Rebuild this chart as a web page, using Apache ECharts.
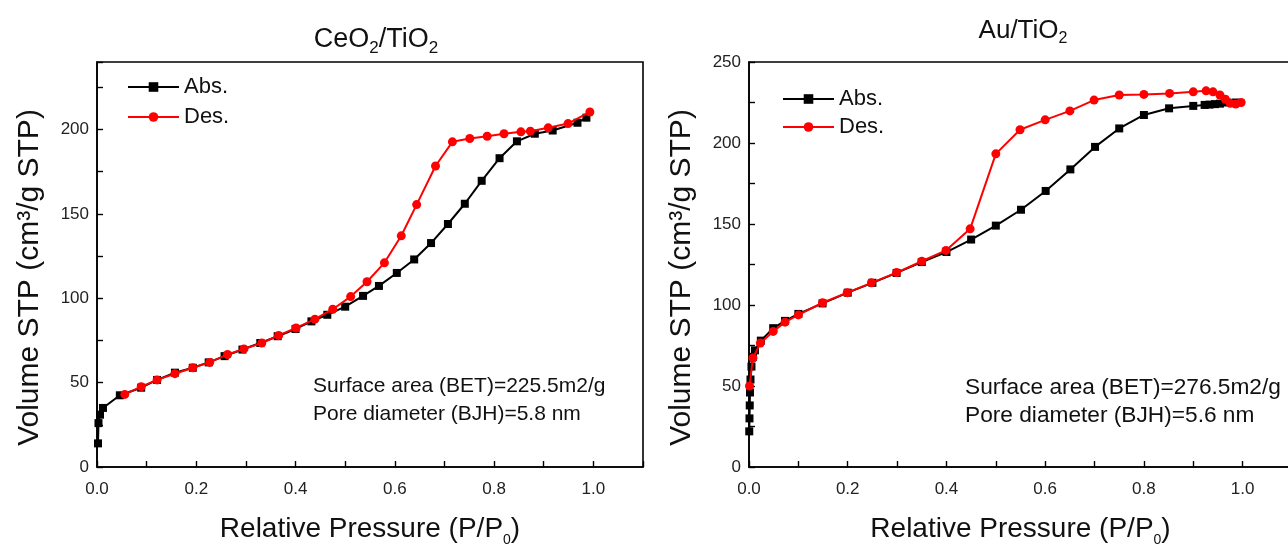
<!DOCTYPE html>
<html>
<head>
<meta charset="utf-8">
<script src="https://cdn.jsdelivr.net/npm/echarts@6/dist/echarts.min.js"></script>
<style>
html,body{margin:0;padding:0;background:#fff;}
#chart{width:1288px;height:546px;}
</style>
</head>
<body>
<div id="chart"></div>
<script>
// CeO2/TiO2 adsorption branch [P/P0, volume]
var ceoAbs = [[0.002,14],[0.003,26],[0.006,31],[0.012,35],[0.046,42.5],[0.089,47],[0.121,51.6],[0.157,55.9],[0.193,58.8],[0.225,62],[0.257,65.7],[0.293,69.6],[0.329,73.5],[0.364,77.5],[0.400,81.8],[0.432,86.3],[0.464,90.2],[0.500,95],[0.536,101.4],[0.568,107.3],[0.604,115],[0.639,123],[0.673,132.7],[0.707,144],[0.741,156],[0.775,169.6],[0.811,183],[0.846,193],[0.882,197.5],[0.918,199.4],[0.968,204],[0.986,207]];
// CeO2/TiO2 desorption branch
var ceoDes = [[0.993,210.4],[0.949,203.5],[0.909,201],[0.873,199],[0.854,198.6],[0.820,197.5],[0.786,196],[0.751,194.7],[0.716,192.7],[0.682,178.4],[0.644,155.5],[0.613,137],[0.579,121],[0.544,109.8],[0.511,101],[0.475,93.5],[0.439,87.6],[0.401,82.4],[0.366,78],[0.332,73.5],[0.296,70],[0.263,66.7],[0.227,62],[0.193,58.8],[0.157,55.3],[0.121,51.6],[0.089,47.6],[0.056,43]];
// Au/TiO2 adsorption branch
var auAbs = [[0.0005,22],[0.001,30],[0.0015,38],[0.002,46],[0.003,54],[0.005,62],[0.008,68],[0.012,72],[0.024,78],[0.049,85.7],[0.073,90.2],[0.100,94.5],[0.149,101],[0.200,107.6],[0.250,113.7],[0.299,119.8],[0.350,126.5],[0.400,132.7],[0.450,140.4],[0.500,149],[0.551,158.8],[0.601,170.4],[0.651,183.7],[0.701,197.6],[0.750,209],[0.800,217.3],[0.851,221.4],[0.900,222.9],[0.923,223.5],[0.933,223.7],[0.944,224],[0.954,224.3],[0.968,225],[0.986,225]];
// Au/TiO2 desorption branch
var auDes = [[0.997,225],[0.986,224],[0.975,224.5],[0.965,227],[0.954,229.6],[0.940,231.6],[0.926,232.2],[0.900,231.6],[0.852,230.6],[0.800,230],[0.750,229.6],[0.699,226.5],[0.650,219.8],[0.600,214.3],[0.549,208.2],[0.500,193.3],[0.448,147],[0.399,133.7],[0.350,127],[0.299,120],[0.248,113.7],[0.199,107.6],[0.149,101.4],[0.100,93.9],[0.073,89.4],[0.049,83.7],[0.023,76.5],[0.008,67.3],[0.001,50]];

var seriesNames = ['Abs.', 'Des.'];
var ceoNotes = ['Surface area (BET)=225.5m2/g', 'Pore diameter (BJH)=5.8 nm'];
var auNotes = ['Surface area (BET)=276.5m2/g', 'Pore diameter (BJH)=5.6 nm'];

var FONT = 'Liberation Sans, Arial, sans-serif';
var chart = echarts.init(document.getElementById('chart'), null, {renderer: 'canvas'});

function subRich(big, small, drop) {
  return {
    n: {fontSize: big, fontFamily: FONT, color: '#111', fontWeight: 'normal'},
    s: {fontSize: small, fontFamily: FONT, color: '#111', fontWeight: 'normal', padding: [drop, 0, 0, 0]}
  };
}

function xAxis(gi) {
  return {
    type: 'value', gridIndex: gi, min: 0, max: 1.1, interval: 0.1,
    name: '{n|Relative Pressure (P/P}{s|0}{n|)}', nameLocation: 'middle', nameGap: 44,
    nameTextStyle: {rich: subRich(28, 14, 22)},
    axisLine: {show: true, onZero: false, lineStyle: {color: '#000', width: 1.6}},
    axisTick: {show: true, inside: true, length: 6, lineStyle: {color: '#000', width: 1.4}},
    axisLabel: {
      fontSize: 17, fontFamily: FONT, color: '#222', margin: 14,
      formatter: function (v) { var k = Math.round(v * 10); return (k % 2 === 0 && k <= 10) ? (k / 10).toFixed(1) : ''; }
    },
    splitLine: {show: false}
  };
}
function yAxis(gi, max) {
  return {
    type: 'value', gridIndex: gi, min: 0, max: max, interval: 25,
    name: 'Volume STP (cm³/g STP)', nameLocation: 'middle', nameGap: 52, nameRotate: 90,
    nameTextStyle: {fontSize: 30, fontFamily: FONT, color: '#111', padding: [0, 26, 0, 0]},
    axisLine: {show: true, onZero: false, lineStyle: {color: '#000', width: 1.6}},
    axisTick: {show: true, inside: true, length: 6, lineStyle: {color: '#000', width: 1.4}},
    axisLabel: {
      fontSize: 17, fontFamily: FONT, color: '#222', margin: 8,
      formatter: function (v) { return (Math.round(v) % 50 === 0) ? String(Math.round(v)) : ''; }
    },
    splitLine: {show: false}
  };
}
function absSeries(name, data, xi) {
  return {
    name: name, type: 'line', xAxisIndex: xi, yAxisIndex: xi, data: data,
    symbol: 'rect', symbolSize: 8, showAllSymbol: true,
    lineStyle: {color: '#000', width: 2}, itemStyle: {color: '#000'},
    animation: false, z: 2
  };
}
function desSeries(name, data, xi) {
  return {
    name: name, type: 'line', xAxisIndex: xi, yAxisIndex: xi, data: data,
    symbol: 'circle', symbolSize: 9, showAllSymbol: true,
    lineStyle: {color: '#ff0000', width: 2}, itemStyle: {color: '#ff0000'},
    animation: false, z: 3
  };
}
function legend(left, top, gap) {
  return {
    orient: 'vertical', left: left, top: top, data: seriesNames,
    itemWidth: 51, itemHeight: 12, itemGap: gap,
    textStyle: {fontSize: 22, fontFamily: FONT, color: '#111'},
    selectedMode: false
  };
}
function noteText(lines, x, y, size, gap) {
  return lines.map(function (t, i) {
    return {
      type: 'text', left: x, top: y + i * gap, z: 10,
      style: {text: t, font: size + 'px ' + FONT, fill: '#111'}
    };
  });
}

chart.setOption({
  backgroundColor: '#fff',
  animation: false,
  title: [
    {text: '{n|CeO}{s|2}{n|/TiO}{s|2}', left: 371, top: 18, textAlign: 'center', textStyle: {rich: subRich(27, 17, 17)}},
    {text: '{n|Au/TiO}{s|2}', left: 1018, top: 10, textAlign: 'center', textStyle: {rich: subRich(26, 16, 16)}}
  ],
  legend: [legend(122, 71, 8), legend(777, 83, 6)],
  grid: [
    {left: 97, right: 645, top: 62, bottom: 79, show: true, borderColor: '#000', borderWidth: 1.6, backgroundColor: 'transparent', containLabel: false, outerBoundsMode: 'none'},
    {left: 749, right: -4, top: 62, bottom: 79, show: true, borderColor: '#000', borderWidth: 1.6, backgroundColor: 'transparent', containLabel: false, outerBoundsMode: 'none'}
  ],
  xAxis: [xAxis(0), xAxis(1)],
  yAxis: [yAxis(0, 240), yAxis(1, 250)],
  series: [
    absSeries(seriesNames[0], ceoAbs, 0),
    desSeries(seriesNames[1], ceoDes, 0),
    absSeries(seriesNames[0], auAbs, 1),
    desSeries(seriesNames[1], auDes, 1)
  ],
  graphic: noteText(ceoNotes, 313, 376, 21, 28).concat(noteText(auNotes, 965, 376, 22.7, 28))
});
</script>
</body>
</html>
